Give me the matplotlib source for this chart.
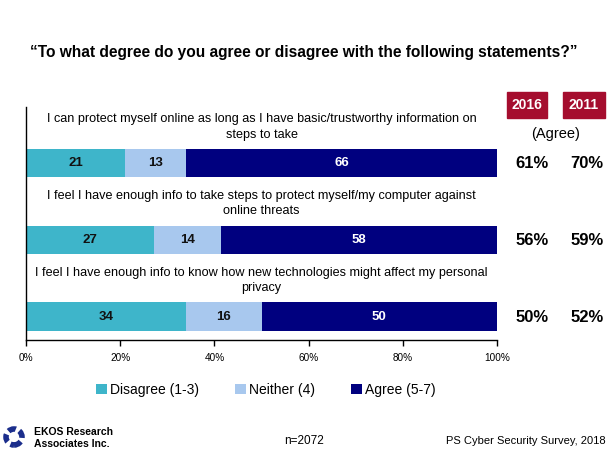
import numpy as np
import matplotlib.pyplot as plt
from matplotlib.patches import Rectangle, Ellipse

plt.rcParams['font.family'] = ['Liberation Sans', 'DejaVu Sans']

# data
statements = [
    'I can protect myself online as long as I have basic/trustworthy information on\nsteps to take',
    'I feel I have enough info to take steps to protect myself/my computer against\nonline threats',
    'I feel I have enough info to know how new technologies might affect my personal\nprivacy',
]
disagree = [21, 27, 34]
neither = [13, 14, 16]
agree = [66, 58, 50]
agree_2016 = ['61%', '56%', '50%']
agree_2011 = ['70%', '59%', '52%']
series_names = ['Disagree (1-3)', 'Neither (4)', 'Agree (5-7)']
colors = ['#3EB5CA', '#A8C8EE', '#00007F']
label_colors = ['#111111', '#111111', 'white']

fig = plt.figure(figsize=(6.08, 4.53), dpi=100)
ax = fig.add_axes([0.0428, 0.2494, 0.7746, 0.5144])

# 100% stacked: each row scaled to its total
table = np.array([disagree, neither, agree], dtype=float)
shares = table / table.sum(axis=0) * 100

y = np.arange(len(statements))
left = np.zeros(len(statements))
handles = []
for vals, widths, c, tc, name in zip(table, shares, colors, label_colors, series_names):
    bars = ax.barh(y, widths, left=left, height=0.37, color=c, label=name)
    handles.append(bars)
    for yi, l, w, v in zip(y, left, widths, vals):
        ax.text(l + w / 2, yi, '%d' % v, ha='center', va='center', color=tc,
                fontsize=9.5, fontweight='bold')
    left = left + widths

for yi, s in zip(y, statements):
    ax.text(50, yi - 0.47, s, ha='center', va='center', fontsize=9.1, linespacing=1.4)

ax.set_xlim(0, 100)
ax.set_ylim(2.305, -0.727)
ax.set_xticks([0, 20, 40, 60, 80, 100])
ax.set_xticklabels(['0%', '20%', '40%', '60%', '80%', '100%'], fontsize=7.2)
ax.set_yticks([])
for side in ['top', 'right']:
    ax.spines[side].set_visible(False)
ax.spines['left'].set_linewidth(1)
ax.spines['bottom'].set_linewidth(1)
ax.tick_params(axis='x', length=4, width=1, pad=5)

# right-hand columns
for yi, a16, a11 in zip(y, agree_2016, agree_2011):
    yf = 1 - (163 + 77 * yi) / 453
    fig.text(532 / 608, yf, a16, ha='center', va='center', fontsize=12, fontweight='bold')
    fig.text(587 / 608, yf, a11, ha='center', va='center', fontsize=12, fontweight='bold')

for x0, x1, lab in [(507, 547, '2016'), (563, 605, '2011')]:
    fig.patches.append(Rectangle((x0 / 608, 1 - 118 / 453), (x1 - x0) / 608, 26 / 453,
                                 transform=fig.transFigure, color='#A50D2E'))
    fig.text((x0 + x1) / 2 / 608, 1 - 105 / 453, lab, ha='center', va='center', color='white',
             fontsize=10, fontweight='bold')
fig.text(556 / 608, 1 - 134 / 453, '(Agree)', ha='center', va='center', fontsize=10.5)

fig.text(304 / 608, 1 - 53 / 453,
         '\u201cTo what degree do you agree or disagree with the following statements?\u201d',
         ha='center', va='center', fontsize=11.2, fontweight='bold')

fig.legend(handles=handles, labels=series_names, loc='center', bbox_to_anchor=(266 / 608, 1 - 390 / 453),
           ncol=3, frameon=False, fontsize=10, handlelength=0.8, handleheight=0.8,
           handletextpad=0.2, columnspacing=2.6)

# footer: logo ring and texts
fig.patches.append(Ellipse((14 / 608, 1 - 437 / 453), 16 / 608, 16 / 453, transform=fig.transFigure,
                           fill=False, edgecolor='#1B2E8C', linewidth=4, linestyle=(0, (1.4, 0.7))))
fig.text(34 / 608, 1 - 438 / 453, 'EKOS Research\nAssociates Inc.', ha='left', va='center',
         fontsize=7.5, fontweight='bold', linespacing=1.3)
fig.text(304 / 608, 1 - 441 / 453, 'n=2072', ha='center', va='center', fontsize=8.5)
fig.text(606 / 608, 1 - 441 / 453, 'PS Cyber Security Survey, 2018', ha='right', va='center', fontsize=8)

fig.savefig('out.png', dpi=100)
